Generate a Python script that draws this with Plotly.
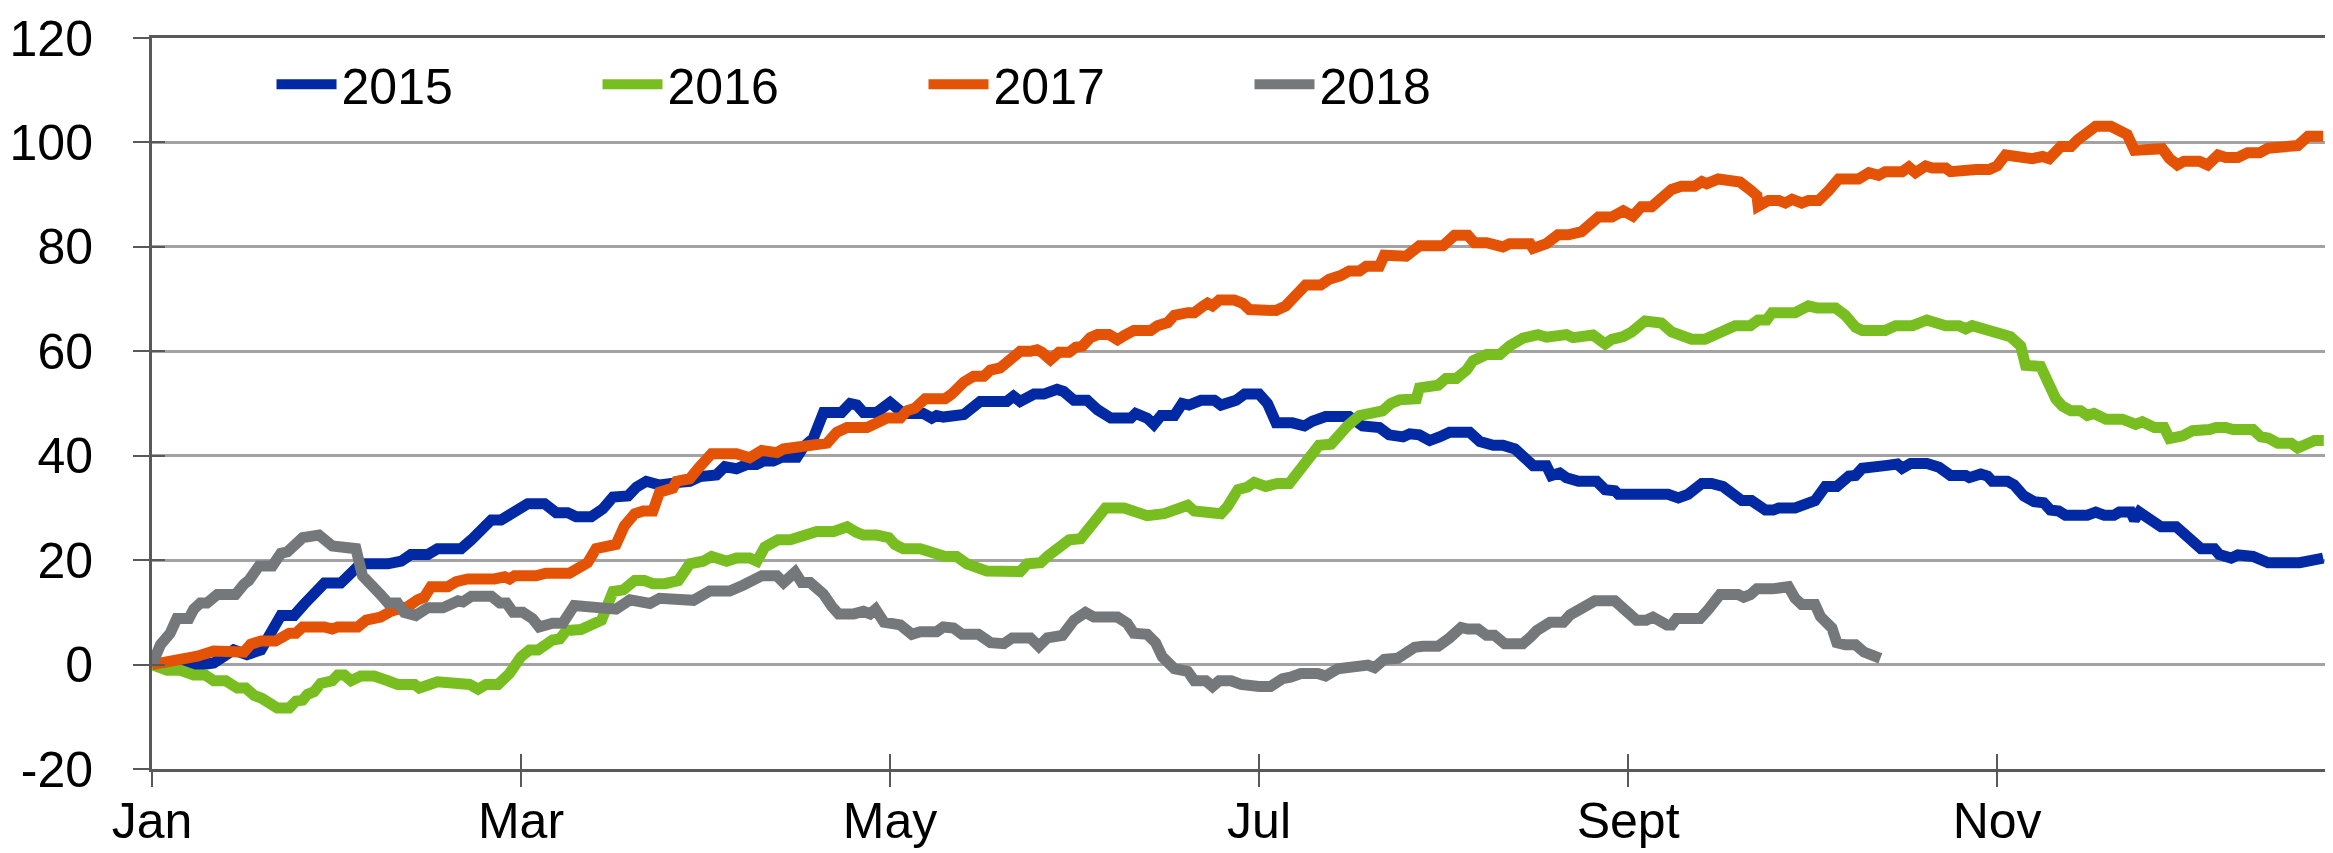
import plotly.graph_objects as go

# ---- axis ticks ----
month_ticks = [0, 61, 122, 183, 244, 305]          # day of year
month_labels = ["Jan", "Mar", "May", "Jul", "Sept", "Nov"]
y_ticks = [-20, 0, 20, 40, 60, 80, 100, 120]
y_labels = ["-20", "0", "20", "40", "60", "80", "100", "120"]

series_names = ["2015", "2016", "2017", "2018"]
series_colors = ["#0029A3", "#78BE21", "#E35205", "#75787B"]

# ---- data: (day of year, cumulative value) ----
pts_2015 = [
    (0, 0), (4.7, 0), (6.4, -0.3), (10.2, 0.3), (13.5, 2.8), (15.7, 1.9), (18, 2.8), (21.3, 9.4),
    (23.5, 9.4), (25.1, 11.5), (28.5, 15.6), (31.2, 15.6), (32.3, 17), (34.5, 19.3), (39, 19.3),
    (41.2, 19.8), (42.8, 21.1), (45.6, 21.1), (47.2, 22.2), (51.1, 22.2), (52.8, 23.9), (54.4, 25.7),
    (56.1, 27.7), (57.7, 27.7), (60.5, 29.8),
    (62.1, 30.8), (64.9, 30.8), (66.8, 29.1), (68.7, 29.1), (70.1, 28.3), (72.6, 28.3), (74.5, 29.8),
    (76.2, 32.1), (78.7, 32.3), (80.1, 34), (81.7, 35.1), (83.9, 34.4), (85.6, 34.4), (87.2, 34.9),
    (88.9, 35.1), (90.6, 36), (93.3, 36.3), (94.7, 37.9), (96.6, 37.5), (98.3, 38.3), (99.9, 38.3),
    (101.1, 39), (102.7, 39), (104.1, 39.7), (106.6, 39.7), (107.7, 41.7), (109.3, 43.3), (111, 48.3),
    (114, 48.3), (115.4, 50), (116.5, 49.7), (117.6, 48.3), (119.8, 48.3), (122, 50.2),
    (124.2, 48.1), (127.5, 48.1), (128.9, 47.2), (129.7, 47.7), (130.8, 47.4), (134.2, 47.9),
    (136.9, 50.4), (138, 50.4), (139.1, 50.9), (141.3, 50.4), (142.4, 51.4), (143.5, 50.4),
    (145.8, 51.8), (147.4, 51.8), (149.6, 52.7), (150.7, 52.3), (152.4, 50.6), (154.6, 50.6),
    (156.3, 48.8), (158.5, 47.2), (161.8, 47.2), (162.6, 48.1), (164.5, 47.2), (165.6, 46),
    (166.8, 47.7), (169, 47.7), (170.3, 50), (171.4, 49.7), (173.4, 50.6), (175.6, 50.6),
    (176.7, 49.7), (179.2, 50.6), (180.6, 51.8), (183, 51.8),
    (184.4, 50), (185.8, 46.3), (188.5, 46.3), (190.5, 45.7), (191.8, 46.6), (194, 47.5), (197.9, 47.5),
    (200.1, 45.7), (202.9, 45.4), (204.5, 44), (206.8, 43.6), (207.9, 44.2), (209.5, 44), (211.2, 42.9),
    (212.8, 43.6), (214.5, 44.5), (217.8, 44.5), (219.5, 42.7), (221.7, 42), (223.3, 42), (225.3, 41.3),
    (226.6, 39.9), (228.3, 38.1), (230.5, 38.1), (231.3, 36.2), (232.7, 36.7), (233.8, 35.8),
    (235.8, 35.1), (238.8, 35.1), (240.2, 33.5), (241.8, 33.3), (242.4, 32.6), (243.8, 32.6),
    (245.1, 32.1), (246.8, 32.1), (247.9, 32.6), (250.6, 32.6), (252.3, 31.9), (253.9, 32.6),
    (256.2, 34.7), (257.8, 34.7), (259.7, 34.1), (260.9, 32.9), (262.8, 31.4), (264.4, 31.4),
    (266.7, 29.6), (268, 29.6), (268.9, 30), (271.6, 30), (273.3, 31), (274.9, 31.4), (276.6, 34.1),
    (278.5, 34.1), (280.5, 36.1), (281.6, 36.2), (282.7, 37.6), (285.4, 37.6), (286.5, 38.1),
    (288.5, 38.4), (289.3, 37.6), (290.7, 38.5), (293.4, 38.5), (295.4, 37.8), (297.3, 36.2),
    (299.8, 36.2), (300.4, 35.8), (302.3, 36.5), (303.4, 36.1), (304.2, 35.1),
    (306.7, 35.1), (307.8, 34.4), (309.4, 32.3), (311.1, 31.2), (312.7, 31), (313.8, 29.6),
    (315.2, 29.4), (316.3, 28.6), (319.9, 28.6), (321.3, 29.2), (322.7, 28.6), (324.3, 28.6),
    (325.2, 29.2), (327.1, 29.2), (327.7, 27.7), (328.5, 29.2), (330.1, 28), (332.1, 26.4),
    (334.6, 26.4), (336.2, 24.5), (337.9, 23.2), (338.7, 22.2), (340.9, 22.2), (341.7, 21.1),
    (343.7, 20.4), (344.8, 21), (347.3, 20.7), (349.8, 19.5), (355, 19.5), (356.1, 20), (357.2, 20),
    (358.9, 20.4),
]

pts_2016 = [
    (0, 0), (2.5, -1.1), (4.7, -1.1), (6.9, -2), (8.8, -2), (10.2, -3.1), (12.2, -3.1), (14.1, -4.5),
    (15.5, -4.5), (16.9, -5.9), (18.2, -6.5), (20.7, -8.3), (22.7, -8.3), (23.8, -7), (24.9, -6.8),
    (25.7, -5.7), (26.8, -5.2), (27.9, -3.6), (29.8, -3.1), (30.7, -2), (31.8, -2), (32.9, -3.1),
    (34.5, -2.2), (36.7, -2.2), (39, -3.1), (40.6, -3.8), (43.4, -3.8), (44.2, -4.5), (47.2, -3.3),
    (50, -3.3), (51.4, -3.8), (52.5, -3.8), (53.9, -4.7), (55.2, -3.8), (57.2, -3.8), (59.1, -1.7),
    (61, 1.5),
    (62.4, 2.8), (63.8, 2.8), (66.2, 4.7), (67.4, 4.9), (68.5, 6.5), (70.9, 6.7), (72.9, 8.1),
    (74.3, 8.5), (76.2, 14), (77.9, 14.3), (79.8, 16.1), (81.4, 16.1), (82.8, 15.5), (84.8, 15.5),
    (87, 16.1), (88.9, 19.3), (91.1, 19.8), (92.5, 20.7), (95, 19.8), (96.6, 20.4), (98.8, 20.4),
    (100, 19.8), (101.3, 22.5), (103.5, 23.9), (105.5, 23.9), (107.1, 24.6), (108.2, 24.6),
    (109.9, 25.5), (112.7, 25.5), (114.9, 26.4), (116.5, 25.3), (117.6, 24.8), (119.8, 24.8),
    (121.8, 24.3),
    (122.8, 23), (124.2, 22.2), (127, 22.2), (129.7, 21.1), (131.1, 20.7), (133, 20.7), (134.7, 19.3),
    (138, 17.9), (140.8, 17.9), (141.9, 17.5), (143.5, 17.8), (144.7, 19.3), (146.9, 19.5),
    (148, 20.7), (150.2, 22.3), (151.6, 23.9), (153.5, 24.1), (155.1, 26.6), (157.6, 30), (160.7, 30),
    (162.3, 29.4), (164.5, 28.5), (167.3, 28.9), (170.1, 29.8), (171.2, 30.5), (172.3, 29.4),
    (175.6, 29.4), (176.7, 28.9), (177.8, 30.3), (179.5, 33.5), (181.1, 34), (182.2, 34.9),
    (184.1, 34.1), (186, 34.7), (188, 34.7), (189.6, 36.9), (191.6, 40.4), (192.9, 42), (194.9, 42.2),
    (196.5, 44.5), (197.6, 45.7), (199.6, 47.7), (201.8, 48), (203.4, 48.6), (204.8, 50),
    (206.2, 50.7), (209, 50.9), (209.5, 53), (212.6, 53.5), (213.9, 54.8), (215.6, 54.8),
    (217.3, 56.4), (218.4, 58.2), (220.6, 59.4), (222.8, 59.4), (224.4, 61), (226.6, 62.5),
    (229.1, 63.2), (230.5, 62.7), (232.2, 63.2), (233.8, 63.2), (234.9, 62.6), (237.1, 62.6),
    (238.2, 63.1), (240.2, 61.4), (241.3, 62.3), (243.2, 62.8),
    (244.6, 63.7), (246.8, 65.8), (249.5, 65.4), (251.2, 63.7), (254.5, 62.3), (256.7, 62.3),
    (258.9, 63.2), (260, 64.2), (261.7, 64.9), (264.2, 64.9), (265.5, 66), (266.9, 66), (267.8, 67.4),
    (271.6, 67.4), (273.8, 68.7), (275.2, 68.3), (278.3, 68.3), (279.9, 66.9), (281.6, 64.6),
    (282.7, 64), (286.5, 64), (288.2, 64.9), (291, 64.9), (293.4, 66), (296.5, 64.9), (298.7, 64.9),
    (299.8, 64.3), (300.9, 64.9), (303.1, 64), (305, 63.4),
    (307.2, 62.8), (308.9, 61), (309.7, 57.3), (312.2, 57.1), (313, 54.8), (314.7, 50.9),
    (315.8, 49.5), (317.2, 48.6), (318.8, 48.6), (319.9, 47.7), (321, 48.1), (323, 47), (325.7, 47),
    (327.9, 46), (329, 46.5), (331, 45.4), (332.6, 45.4), (333.5, 43.3), (335.7, 43.8), (337.3, 44.8),
    (340.1, 45), (341.2, 45.4), (342.8, 45.4), (344, 45), (347.3, 45), (348.6, 43.6), (349.8, 43.4),
    (351.4, 42.4), (353.6, 42.4), (354.7, 41.5), (356.1, 42.2), (357.5, 42.9), (359, 42.9),
]

pts_2017 = [
    (0, 0), (2.5, 0.5), (5.2, 1.5), (7.5, 1.6), (10.2, 2.6), (14.1, 2.8), (15.2, 2.4), (16.3, 3.9),
    (18, 4.5), (20.4, 4.5), (22.7, 6), (23.8, 6), (24.9, 7.2), (28.5, 7.2), (29.8, 6.8), (30.7, 7.2),
    (34, 7.2), (35.4, 8.5), (37.8, 9.1), (39.5, 10.2), (42.3, 11.1), (43.9, 12.4), (45, 12.9),
    (46.1, 14.9), (48.9, 14.9), (50.3, 15.9), (52.2, 16.4), (56.6, 16.4), (58.3, 16.8), (59.1, 16.4),
    (59.9, 17),
    (63.5, 17), (65.1, 17.5), (69, 17.5), (70.4, 18.6), (72, 19.5), (73.4, 22.2), (76.7, 23),
    (78.1, 26.6), (79.8, 28.9), (81.2, 29.4), (82.8, 29.4), (83.9, 33), (84.8, 33.5), (86.1, 33.8),
    (86.7, 35.1), (88.9, 35.6), (90.3, 37.6), (91.4, 39), (92.5, 40.4), (96.6, 40.4), (98.8, 39.6),
    (100.8, 41), (103.3, 40.6), (104.4, 41.3), (106.6, 41.5), (108.8, 42.2), (111.6, 42.4),
    (113.2, 44.5), (114.9, 45.4), (118.2, 45.4), (120.4, 46.3), (121.5, 47.2),
    (123.7, 47.2), (124.8, 48.6), (126.1, 49.1), (127.8, 50.9), (131.1, 50.9), (132.2, 51.8),
    (134.2, 54.1), (135.8, 55.2), (137.5, 55.2), (138.6, 56.4), (140.2, 56.8), (142.2, 58.7),
    (143.5, 60), (145.2, 60), (146.3, 60.3), (147.1, 59.8), (148.5, 58.4), (149.9, 59.8),
    (151.6, 59.8), (152.7, 60.8), (153.8, 61), (155.1, 62.6), (156.3, 63.2), (158.2, 63.2),
    (159.6, 62.2), (160.7, 63), (162.3, 64), (165.1, 64), (166.2, 64.9), (167.9, 65.5), (169, 66.9),
    (171.2, 67.4), (172.3, 67.4), (173.7, 68.6), (174.5, 69.2), (175.3, 68.7), (176.4, 69.8),
    (178.9, 69.8), (180.3, 69.2), (181.4, 68), (183, 67.8),
    (185.8, 67.8), (187.4, 68.7), (188.5, 70.1), (190.7, 72.7), (193.2, 72.7), (194.6, 73.8),
    (196.5, 74.5), (197.9, 75.4), (199.6, 75.4), (200.7, 76.3), (202.9, 76.3), (203.7, 78.4),
    (207.3, 78.2), (209.5, 80.2), (213.4, 80.2), (215.3, 82.2), (217.5, 82.2), (218.6, 80.8),
    (220.6, 80.8), (223.3, 80), (224.4, 80.6), (227.8, 80.6), (228.3, 79.7), (230.5, 80.6),
    (232.4, 82.3), (234.1, 82.3), (236.3, 82.9), (237.7, 84), (239.1, 85.7), (241.3, 85.7),
    (243.2, 86.9),
    (244.8, 85.9), (246.2, 87.7), (247.9, 87.7), (249.5, 89.5), (251.2, 91), (252.8, 91.6), (255, 91.6),
    (256.2, 92.5), (257, 92.1), (258.9, 93), (261.1, 92.7), (262.5, 92.4), (264.2, 90.9),
    (265.3, 89.8), (265.5, 87.8), (267.2, 88.9), (268.9, 88.9), (270, 88.4), (271.1, 89.1),
    (272.7, 88.4), (273.8, 88.9), (275.5, 88.9), (277.1, 90.7), (278.8, 93), (282.1, 93),
    (283.8, 94.2), (285.4, 93.7), (286.5, 94.4), (289.3, 94.4), (290.4, 95.3), (291.5, 94.2),
    (293.2, 95.5), (294.3, 95.1), (296.5, 95.1), (297.3, 94.4), (298.7, 94.6), (300.4, 95.1),
    (301.5, 94.8), (303.7, 94.8),
    (305, 95.5), (306.4, 97.6), (308, 97.3), (310.8, 96.9), (312.5, 97.3), (313.6, 96.9),
    (315.5, 99.2), (317.2, 99.2), (318.3, 100.5), (319.6, 101.7), (321.3, 103.1), (323.8, 103.1),
    (324.9, 102.3), (326.5, 101.5), (327.7, 98.5), (331.2, 98.5), (332.3, 98.8), (333.5, 96.9),
    (334.8, 95.7), (335.9, 96.4), (338.4, 96.4), (339.8, 95.7), (341.5, 97.6), (342.8, 97.1),
    (344.8, 97.1), (346.4, 98), (348.4, 98), (349.8, 98.9), (353.9, 98.9), (354.7, 99.4),
    (356.4, 101.2), (358.9, 101.2),
]

pts_2018 = [
    (0, 0), (1.4, 3.8), (3, 6), (4.1, 8.8), (6.1, 8.8), (6.9, 10.6), (8, 11.8), (9.1, 11.8),
    (10.8, 13.4), (13.8, 13.4), (15.2, 15.4), (16, 16.1), (17.7, 18.9), (19.9, 18.9), (21.3, 21.3),
    (22.4, 21.6), (24.9, 24.3), (26.8, 24.3), (27.6, 24.8), (29.8, 22.7), (31.8, 22.2), (33.7, 22.2),
    (34.8, 17), (36.5, 15.2), (37.8, 13.4), (39, 11.8), (40.6, 11.8), (41.7, 10), (43.6, 9.4),
    (45.6, 10.9), (48.1, 10.9), (50.6, 12.2), (51.4, 12), (52.8, 13.1), (54.4, 12.9), (56.1, 13.1),
    (57.5, 11.8), (58.6, 11.8), (59.7, 10), (61.3, 10),
    (62.9, 8.8), (64, 7.2), (66.2, 7.9), (67.9, 7.9), (69.8, 11.3), (74.5, 11.1), (76.7, 10.6),
    (79, 12.4), (81.2, 11.7), (82.3, 11.7), (83.9, 12.7), (89.5, 12.3), (92.2, 14.1), (95.5, 14.1),
    (97.7, 15.2), (99.4, 16.1), (100.8, 17), (103.3, 17), (104.4, 15.7), (106.3, 17.7), (107.4, 15.7),
    (108.8, 15.7), (111, 13.5), (112.4, 11.1), (113.5, 9.7), (116, 9.7), (117.6, 10.2), (118.7, 9.7),
    (119.6, 10.6), (121, 8.1),
    (123.7, 7.6), (125.6, 5.8), (127, 6.3), (129.7, 6.3), (130.8, 7.2), (132.5, 7), (133.9, 5.8),
    (136.6, 5.8), (138.6, 4.2), (140.8, 4), (142.2, 5.1), (145.2, 5.1), (146.6, 3.5), (148, 5.1),
    (150.5, 5.6), (152.4, 8.5), (154.3, 10), (155.7, 9.1), (159.6, 9.1), (161.2, 7.9), (162.3, 6),
    (164.5, 5.8), (165.9, 4.2), (167, 1.5), (169, -0.8), (171.2, -1.3), (172.3, -3.1), (174.2, -3.1),
    (175.3, -4.2), (176.4, -3.1), (178.4, -3.1), (180, -3.8), (181.4, -4.2), (183, -4.2),
    (184.9, -4.2), (186.9, -2.7), (188.2, -2.4), (189.9, -1.7), (192.7, -1.7), (194, -2.2), (196, -0.8),
    (199.6, -0.6), (201, -0.1), (202.1, -0.6), (203.7, 1), (205.9, 1.2), (208.7, 3.3), (210.1, 3.5),
    (212.6, 3.5), (214.5, 5.1), (216.4, 7.1), (217.5, 6.8), (219.2, 6.8), (220.6, 5.6), (221.9, 5.6),
    (223.6, 4), (226.6, 4), (228, 5.4), (228.9, 6.5), (231.1, 8.1), (233.3, 8.1), (234.4, 9.5),
    (237.1, 11.5), (238.5, 12.2), (241.8, 12.2), (243.2, 10.9),
    (245.4, 8.5), (247, 8.5), (248.1, 9.1), (250.4, 7.6), (251.2, 7.6), (252, 8.8), (255.9, 8.8),
    (257.3, 10.6), (259.2, 13.4), (262.2, 13.4), (263.1, 12.9), (264.2, 13.4), (265.3, 14.5),
    (267.8, 14.5), (269.4, 14.9), (270.5, 14.9), (271.6, 12.7), (272.7, 11.5), (274.9, 11.5),
    (275.8, 9.2), (277.7, 7), (278.5, 4.2), (279.9, 3.8), (281.6, 3.8), (283, 2.4), (284.6, 1.5),
    (285.7, 1.2),
]

series_points = [pts_2015, pts_2016, pts_2017, pts_2018]

FONT = "Liberation Sans, Arial, sans-serif"
AXIS_COLOR = "#595959"
GRID_COLOR = "#a3a3a3"
X_RANGE = [0, 359.2]

fig = go.Figure()
for name, pts, color in zip(series_names, series_points, series_colors):
    fig.add_trace(go.Scatter(
        x=[p[0] for p in pts], y=[p[1] for p in pts],
        mode="lines", name=name,
        line=dict(color=color, width=11),
    ))

# empty helper traces so the inside-tick overlay axes are drawn
fig.add_trace(go.Scatter(x=[], y=[], xaxis="x2", yaxis="y", showlegend=False, hoverinfo="skip"))
fig.add_trace(go.Scatter(x=[], y=[], xaxis="x", yaxis="y2", showlegend=False, hoverinfo="skip"))

fig.update_layout(
    width=2333, height=853,
    margin=dict(l=144, r=16, t=30, b=92, autoexpand=False),
    paper_bgcolor="white", plot_bgcolor="white",
    font=dict(family=FONT, size=50, color="black"),
    legend=dict(
        orientation="h", x=0.055, y=0.99, xanchor="left", yanchor="top",
        font=dict(family=FONT, size=50, color="black"),
        bgcolor="rgba(0,0,0,0)", entrywidth=251, entrywidthmode="pixels",
        itemwidth=60,
    ),
    xaxis=dict(
        range=X_RANGE, tickmode="array", tickvals=month_ticks, ticktext=month_labels,
        ticks="outside", ticklen=15, tickwidth=2, tickcolor=AXIS_COLOR,
        showline=True, linecolor=AXIS_COLOR, linewidth=3, mirror=True,
        showgrid=False, zeroline=False, ticklabelstandoff=-9,
        tickfont=dict(family=FONT, size=50, color="black"),
    ),
    yaxis=dict(
        range=[-20, 120], tickmode="array", tickvals=y_ticks, ticktext=y_labels,
        ticks="outside", ticklen=16, tickwidth=2, tickcolor=AXIS_COLOR,
        showline=True, linecolor=AXIS_COLOR, linewidth=3, mirror=True,
        showgrid=True, gridcolor=GRID_COLOR, gridwidth=2.5, zeroline=False,
        ticklabelstandoff=30,
        tickfont=dict(family=FONT, size=50, color="black"),
    ),
    xaxis2=dict(
        overlaying="x", anchor="y", side="bottom", range=X_RANGE,
        tickmode="array", tickvals=month_ticks, ticks="inside", ticklen=15,
        tickwidth=2, tickcolor=AXIS_COLOR, showticklabels=False,
        showline=False, showgrid=False, zeroline=False,
    ),
    yaxis2=dict(
        overlaying="y", anchor="x", side="left", range=[-20, 120],
        tickmode="array", tickvals=y_ticks, ticks="inside", ticklen=13,
        tickwidth=2, tickcolor=AXIS_COLOR, showticklabels=False,
        showline=False, showgrid=False, zeroline=False,
    ),
)

fig.write_html("out.html")
